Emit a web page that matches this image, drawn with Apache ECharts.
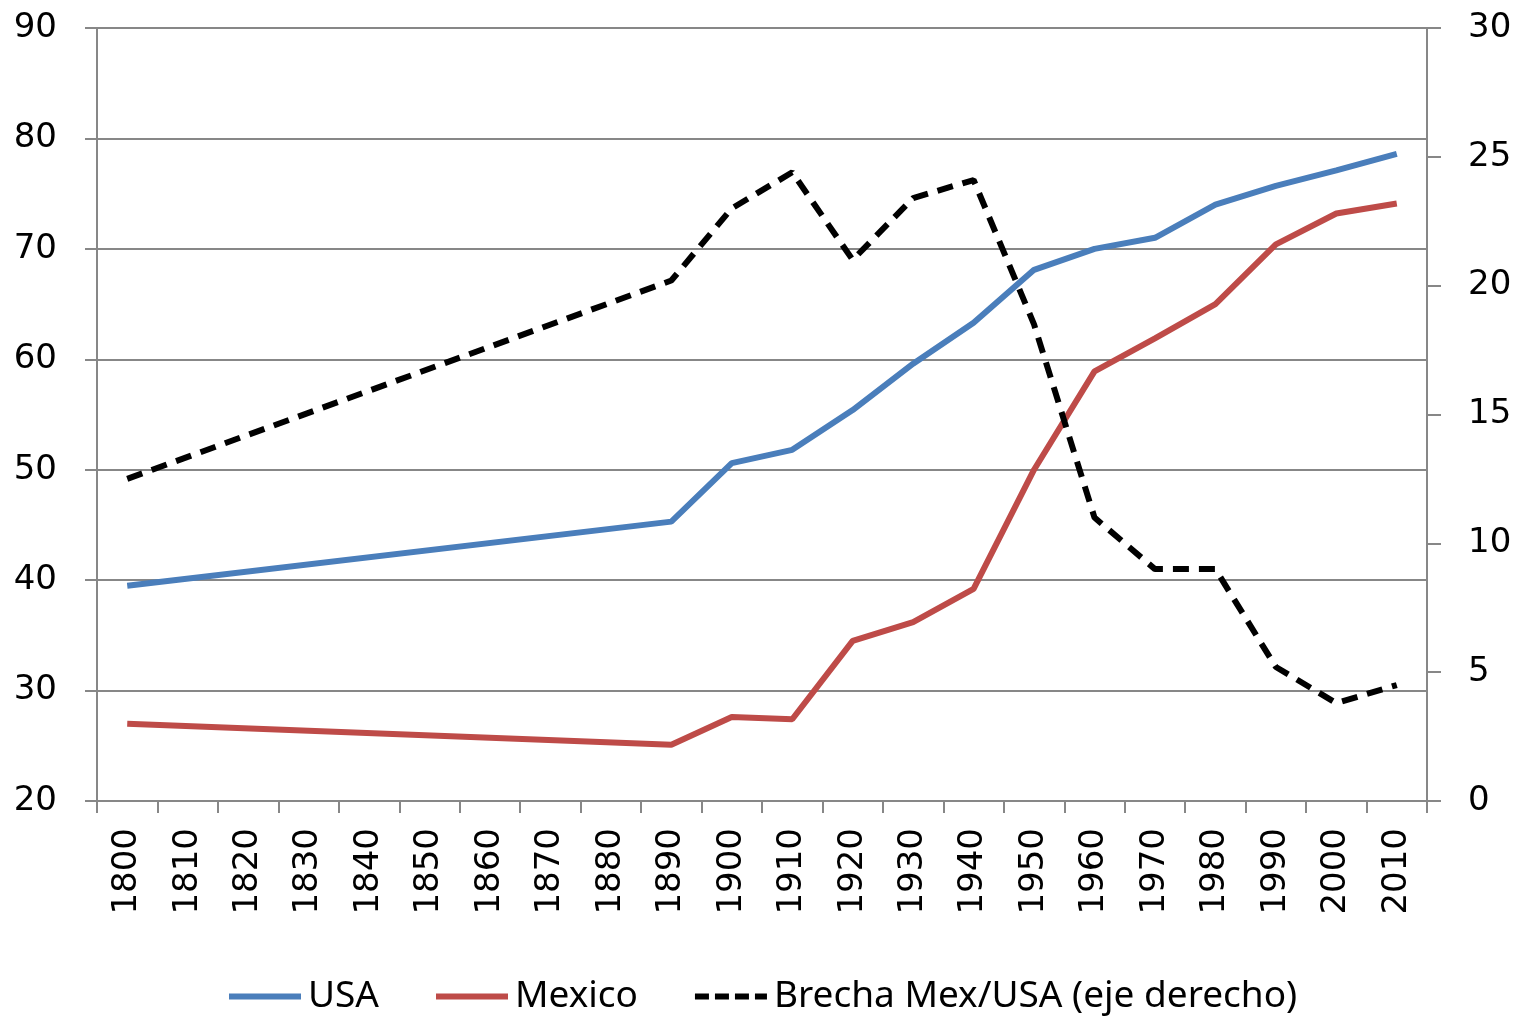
<!DOCTYPE html>
<html>
<head>
<meta charset="utf-8">
<script src="https://cdn.jsdelivr.net/npm/echarts@6/dist/echarts.min.js"></script>
<style>
  html, body { margin: 0; padding: 0; background: #fff; }
  #main { width: 1518px; height: 1016px; }
</style>
</head>
<body>
<div id="main"></div>
<script>
// categorias (años)
var years = ['1800','1810','1820','1830','1840','1850','1860','1870','1880','1890',
             '1900','1910','1920','1930','1940','1950','1960','1970','1980','1990','2000','2010'];
// esperanza de vida, sin datos entre 1810 y 1880
var usa = [39.5, null, null, null, null, null, null, null, null, 45.3,
           50.6, 51.8, 55.4, 59.6, 63.3, 68.1, 70.0, 71.0, 74.0, 75.7, 77.1, 78.6];
var mexico = [27.0, null, null, null, null, null, null, null, null, 25.1,
              27.6, 27.4, 34.5, 36.2, 39.2, 50.0, 58.9, 61.9, 65.0, 70.4, 73.2, 74.1];
var brecha = [12.5, null, null, null, null, null, null, null, null, 20.2,
              23.0, 24.4, 21.0, 23.4, 24.1, 18.5, 11.0, 9.0, 9.0, 5.2, 3.8, 4.5];

var chart = echarts.init(document.getElementById('main'));
var gris = '#878787';
var labelFont = { color: '#000', fontSize: 34, fontFamily: 'DejaVu Sans' };
// iconos de la leyenda
var iconLinea = 'path://M0,0h72v6h-72z';
var iconGuiones = 'path://M0,0h14v6h-14z M20,0h14v6h-14z M40,0h14v6h-14z M60,0h12v6h-12z';

var option = {
    animation: false,
    grid: { left: 97, right: 91, top: 28, bottom: 215 },
    legend: {
        left: 224,
        top: 973,
        itemWidth: 72,
        itemHeight: 6,
        itemGap: 57,
        textStyle: { color: '#000', fontSize: 37, fontFamily: 'Noto Sans', padding: [0, 0, 0, 2] },
        data: [
            { name: 'USA', icon: iconLinea },
            { name: 'Mexico', icon: iconLinea },
            { name: 'Brecha Mex/USA (eje derecho)', icon: iconGuiones }
        ]
    },
    xAxis: {
        type: 'category',
        data: years,
        boundaryGap: true,
        axisLine: { lineStyle: { color: gris, width: 2 } },
        axisTick: { show: true, length: 12, lineStyle: { color: gris, width: 2 } },
        axisLabel: Object.assign({ rotate: 90, margin: 27, interval: 0 }, labelFont),
        splitLine: { show: false }
    },
    yAxis: [
        {
            type: 'value',
            min: 20, max: 90, interval: 10,
            axisLine: { show: true, lineStyle: { color: gris, width: 2 } },
            axisTick: { show: true, length: 12, lineStyle: { color: gris, width: 2 } },
            axisLabel: Object.assign({ margin: 40 }, labelFont),
            splitLine: { show: true, lineStyle: { color: gris, width: 2 } }
        },
        {
            type: 'value',
            min: 0, max: 30, interval: 5,
            axisLine: { show: true, lineStyle: { color: gris, width: 2 } },
            axisTick: { show: true, length: 14, lineStyle: { color: gris, width: 2 } },
            axisLabel: Object.assign({ margin: 41 }, labelFont),
            splitLine: { show: false }
        }
    ],
    series: [
        {
            name: 'USA',
            type: 'line',
            yAxisIndex: 0,
            symbol: 'none',
            connectNulls: true,
            color: '#4a7ebb',
            lineStyle: { width: 6, color: '#4a7ebb' },
            data: usa
        },
        {
            name: 'Mexico',
            type: 'line',
            yAxisIndex: 0,
            symbol: 'none',
            connectNulls: true,
            color: '#be4b48',
            lineStyle: { width: 6, color: '#be4b48' },
            data: mexico
        },
        {
            name: 'Brecha Mex/USA (eje derecho)',
            type: 'line',
            yAxisIndex: 1,
            symbol: 'none',
            connectNulls: true,
            color: '#000',
            lineStyle: { width: 6, color: '#000', type: [16, 10] },
            data: brecha
        }
    ]
};
chart.setOption(option);
</script>
</body>
</html>
